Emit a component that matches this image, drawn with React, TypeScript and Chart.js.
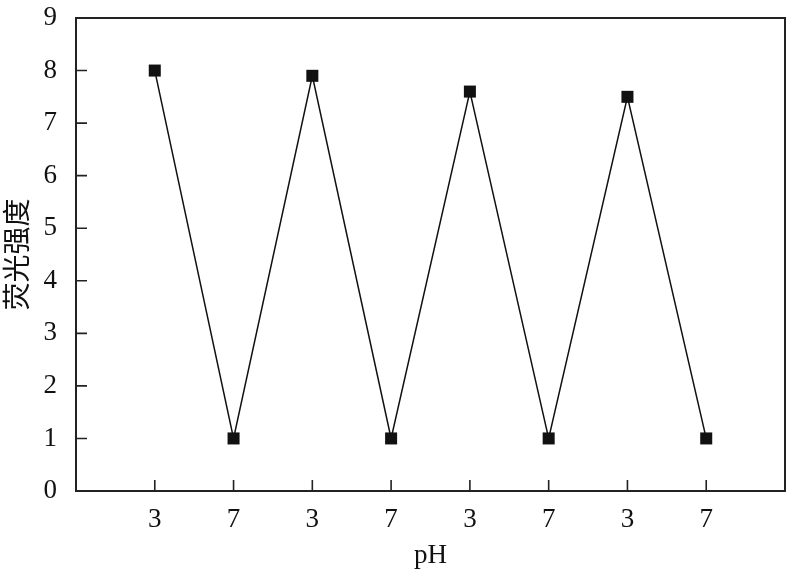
import React, { useEffect, useRef } from "react";
import { Chart, registerables } from "chart.js";

Chart.register(...registerables);

const xPositions = [1, 2, 3, 4, 5, 6, 7, 8];
const phLabels = ["3", "7", "3", "7", "3", "7", "3", "7"];
const intensity = [8.0, 1.0, 7.9, 1.0, 7.6, 1.0, 7.5, 1.0];
const yTicks = [0, 1, 2, 3, 4, 5, 6, 7, 8, 9];

const FONT = "Times New Roman, Liberation Serif, Noto Sans CJK SC, serif";

const frame = {
  id: "frame",
  afterDraw(chart: any) {
    const { ctx, chartArea: a, scales } = chart;
    ctx.save();
    ctx.strokeStyle = "#222";
    ctx.lineWidth = 2;
    ctx.strokeRect(a.left, a.top, a.right - a.left, a.bottom - a.top);
    ctx.lineWidth = 1.6;
    ctx.beginPath();
    scales.y.ticks.forEach((t: any, i: number) => {
      const y = scales.y.getPixelForTick(i);
      if (t.value <= 0 || t.value >= 9) return;
      ctx.moveTo(a.left, y);
      ctx.lineTo(a.left + 11, y);
    });
    scales.x.ticks.forEach((t: any, i: number) => {
      const x = scales.x.getPixelForTick(i);
      ctx.moveTo(x, a.bottom);
      ctx.lineTo(x, a.bottom - 11);
    });
    ctx.stroke();
    ctx.restore();
  },
};

export default function App() {
  const ref = useRef<HTMLCanvasElement>(null);
  useEffect(() => {
    document.body.style.margin = "0";
    let chart: any = null;
    let cancelled = false;
    const make = () => {
      if (cancelled) return;
      chart = new Chart(ref.current!, {
        type: "line",
        data: {
          datasets: [
            {
              data: xPositions.map((x, i) => ({ x, y: intensity[i] })),
              borderColor: "#111",
              borderWidth: 1.5,
              pointStyle: "rect",
              pointRadius: 8.5,
              pointBackgroundColor: "#111",
              pointBorderColor: "#111",
              pointBorderWidth: 0,
              tension: 0,
            },
          ],
        },
        plugins: [frame],
        options: {
          responsive: false,
          animation: false,
          events: [],
          layout: { autoPadding: false, padding: { top: 18, right: 2, left: 0, bottom: 0 } },
          plugins: { legend: { display: false }, tooltip: { enabled: false } },
          scales: {
            x: {
              type: "linear",
              min: 0,
              max: 9,
              afterBuildTicks: (s: any) => {
                s.ticks = xPositions.map((v) => ({ value: v }));
              },
              afterFit: (s: any) => {
                s.height = 81;
                s.paddingLeft = 0;
                s.paddingRight = 0;
              },
              ticks: {
                autoSkip: false,
                maxRotation: 0,
                padding: 13,
                color: "#111",
                font: { family: FONT, size: 27 },
                callback: (v: any) => phLabels[xPositions.indexOf(Number(v))] ?? "",
              },
              grid: { display: false, drawTicks: false },
              border: { display: false },
              title: {
                display: true,
                text: "pH",
                color: "#111",
                font: { family: FONT, size: 27 },
                padding: { top: 0, bottom: 0 },
              },
            },
            y: {
              min: 0,
              max: 9,
              afterBuildTicks: (s: any) => {
                s.ticks = yTicks.map((v) => ({ value: v }));
              },
              afterFit: (s: any) => {
                s.width = 76;
                s.paddingTop = 0;
                s.paddingBottom = 0;
              },
              ticks: {
                padding: 19,
                color: "#111",
                font: { family: FONT, size: 27 },
              },
              grid: { display: false, drawTicks: false },
              border: { display: false },
              title: {
                display: true,
                text: "荧光强度",
                color: "#111",
                font: { family: FONT, size: 28 },
                padding: { top: 3, bottom: 0 },
              },
            },
          },
        },
      });
    };
    const fontsApi = (document as any).fonts;
    if (fontsApi && fontsApi.load) {
      Promise.all([
        fontsApi.load("27px 'Liberation Serif'"),
        fontsApi.load("28px 'Noto Sans CJK SC'", "荧光强度"),
      ])
        .catch(() => null)
        .then(make);
    } else {
      make();
    }
    return () => {
      cancelled = true;
      if (chart) chart.destroy();
    };
  }, []);
  return <canvas ref={ref} width={787} height={572} style={{ display: "block" }} />;
}
